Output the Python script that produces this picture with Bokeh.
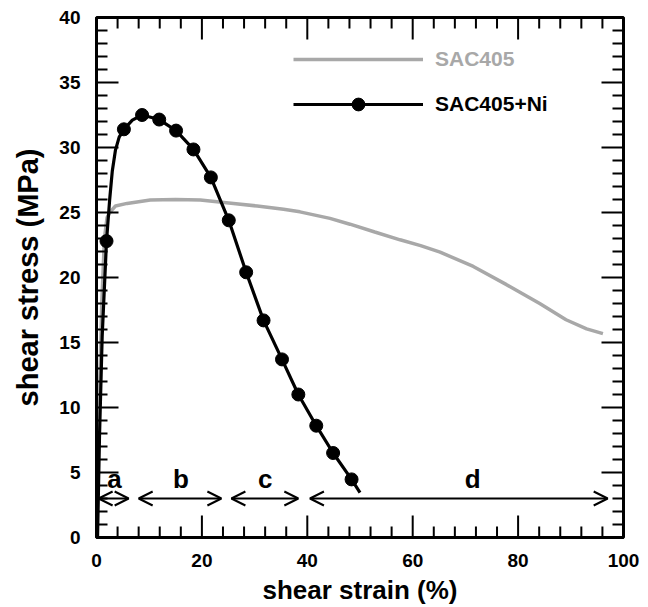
from bokeh.plotting import figure
from bokeh.models import (Range1d, SingleIntervalTicker, Legend, LegendItem,
                          Arrow, OpenHead, ColumnDataSource)
from bokeh.core.properties import value
from bokeh.embed import file_html
from bokeh.resources import INLINE

# ---- data ----
sac_x = [0, 0.5, 1.0, 1.5, 2.0, 2.65, 3.6, 5.8, 10.2, 15.0, 19.7, 26.0, 30.5, 35.5, 38.6,
         44.3, 48.1, 52.8, 57.6, 61.5, 65.2, 71.5, 77.8, 84.1, 89.1, 93.0, 96.1]
sac_y = [0, 10.0, 18.0, 23.0, 24.6, 25.07, 25.5, 25.7, 25.96, 26.0, 25.96, 25.7, 25.5, 25.25, 25.05,
         24.55, 24.1, 23.5, 22.9, 22.45, 21.95, 20.85, 19.45, 18.0, 16.75, 16.05, 15.68]

ni_x = [0.2, 0.57, 1.08, 1.9, 2.5, 3.0, 3.6, 4.3, 5.2, 6.8, 8.65, 11.9, 15.1, 18.4, 21.7, 25.1,
        28.4, 31.7, 35.2, 38.3, 41.7, 44.9, 48.4, 50.0]
ni_y = [0, 7.8, 15.5, 22.8, 26.0, 28.2, 29.8, 30.8, 31.4, 32.1, 32.5, 32.15, 31.3, 29.85, 27.7,
        24.4, 20.4, 16.7, 13.7, 11.0, 8.6, 6.5, 4.47, 3.45]

ni_marker_x = [1.9, 5.2, 8.65, 11.9, 15.1, 18.4, 21.7, 25.1, 28.4, 31.7, 35.2, 38.3, 41.7, 44.9, 48.4]
ni_marker_y = [22.8, 31.4, 32.5, 32.15, 31.3, 29.85, 27.7, 24.4, 20.4, 16.7, 13.7, 11.0, 8.6, 6.5, 4.47]

region_names = ["a", "b", "c", "d"]
region_start = [0.4, 8.0, 25.6, 40.5]
region_end = [6.1, 23.7, 38.3, 97.0]
region_label_x = [3.4, 16.0, 32.0, 71.4]
region_y = 3.0

x_ticks = list(range(0, 101, 20))
y_ticks = list(range(0, 41, 5))

FONT = "Liberation Sans"
GRAY = "#a8a8a8"
X0, X1, Y0, Y1 = 0.0, 100.0, 0.0, 40.0

W, H = 648, 607
BL, BR, BT, BB = 96, 25, 17, 69
FW, FH = W - BL - BR, H - BT - BB   # frame size in px

p = figure(width=W, height=H, output_backend="svg", toolbar_location=None,
           x_range=Range1d(X0, X1), y_range=Range1d(Y0, Y1),
           min_border_left=BL, min_border_right=BR, min_border_top=BT, min_border_bottom=BB)
p.grid.visible = False
p.outline_line_color = "black"
p.outline_line_width = 3
p.background_fill_color = "white"
p.border_fill_color = "white"

p.xaxis.ticker = SingleIntervalTicker(interval=20, num_minor_ticks=5)
p.yaxis.ticker = SingleIntervalTicker(interval=5, num_minor_ticks=5)
for ax in (p.xaxis[0], p.yaxis[0]):
    ax.axis_line_width = 3
    ax.axis_line_color = "black"
    ax.major_tick_line_color = None
    ax.minor_tick_line_color = None
    ax.major_tick_in = 0
    ax.major_tick_out = 0
    ax.minor_tick_in = 0
    ax.minor_tick_out = 0
    ax.major_label_text_font = FONT
    ax.major_label_text_font_style = "bold"
    ax.major_label_text_font_size = "19px"
    ax.major_label_text_color = "black"
    ax.axis_label_text_font = FONT
    ax.axis_label_text_font_style = "bold"
    ax.axis_label_text_color = "black"
p.xaxis.axis_label = "shear strain (%)"
p.yaxis.axis_label = "shear stress (MPa)"
p.xaxis.axis_label_text_font_size = "26px"
p.yaxis.axis_label_text_font_size = "29px"
p.xaxis.major_label_standoff = 16
p.xaxis.axis_label_standoff = 5
p.yaxis.major_label_standoff = 16
p.yaxis.axis_label_standoff = 12

# curves
r_sac = p.line(sac_x, sac_y, line_color=GRAY, line_width=3.5)
r_ni_line = p.line(ni_x, ni_y, line_color="black", line_width=3.2)
r_ni_pts = p.scatter(ni_marker_x, ni_marker_y, size=13, marker="circle",
                     fill_color="black", line_color="black")

# inward ticks on all four sides of the frame (px lengths converted to data units),
# drawn as head-less arrow annotations
dxp = (X1 - X0) / FW
dyp = (Y1 - Y0) / FH
x_minor = [v for v in range(0, 101, 4) if v % 20]
y_minor = [v for v in range(0, 41) if v % 5]
t0x, t0y, t1x, t1y = [], [], [], []
for xs, ln in ((x_ticks, 22), (x_minor, 11)):
    for v in xs:
        t0x += [v, v]; t1x += [v, v]
        t0y += [Y0, Y1]; t1y += [Y0 + ln * dyp, Y1 - ln * dyp]
for ys, ln in ((y_ticks, 22), (y_minor, 11)):
    for v in ys:
        t0y += [v, v]; t1y += [v, v]
        t0x += [X0, X1]; t1x += [X0 + ln * dxp, X1 - ln * dxp]
tick_src = ColumnDataSource(dict(x0=t0x, y0=t0y, x1=t1x, y1=t1y))
p.add_layout(Arrow(end=None, x_start="x0", y_start="y0", x_end="x1", y_end="y1",
                   line_width=2, line_color="black", source=tick_src))

# region arrows
arr_src = ColumnDataSource(dict(x0=region_start, x1=region_end,
                                y=[region_y] * len(region_names)))
p.add_layout(Arrow(start=OpenHead(size=14, line_width=2, line_color="black"),
                   end=OpenHead(size=14, line_width=2, line_color="black"),
                   x_start="x0", y_start="y", x_end="x1", y_end="y",
                   line_width=2, line_color="black", source=arr_src))
p.text(x=region_label_x, y=[region_y] * len(region_names), text=region_names,
       text_font=value(FONT), text_font_style="bold", text_font_size="26px",
       text_align="center", text_baseline="alphabetic", y_offset=-20, text_color="black")

# legends
def mk_legend(items, color, loc, gh):
    return Legend(items=items, location=loc, padding=0, margin=0, spacing=0,
                  glyph_width=130, glyph_height=gh, label_height=20, label_standoff=12,
                  border_line_color=None, background_fill_alpha=0,
                  label_text_font=FONT, label_text_font_style="bold",
                  label_text_font_size="21px", label_text_color=color)

p.add_layout(mk_legend([LegendItem(label="SAC405", renderers=[r_sac])], GRAY, (197, 466), 20))
p.add_layout(mk_legend([LegendItem(label="SAC405+Ni", renderers=[r_ni_line, r_ni_pts])],
                       "black", (197, 417), 32))

open("out.html", "w").write(file_html(p, INLINE))
